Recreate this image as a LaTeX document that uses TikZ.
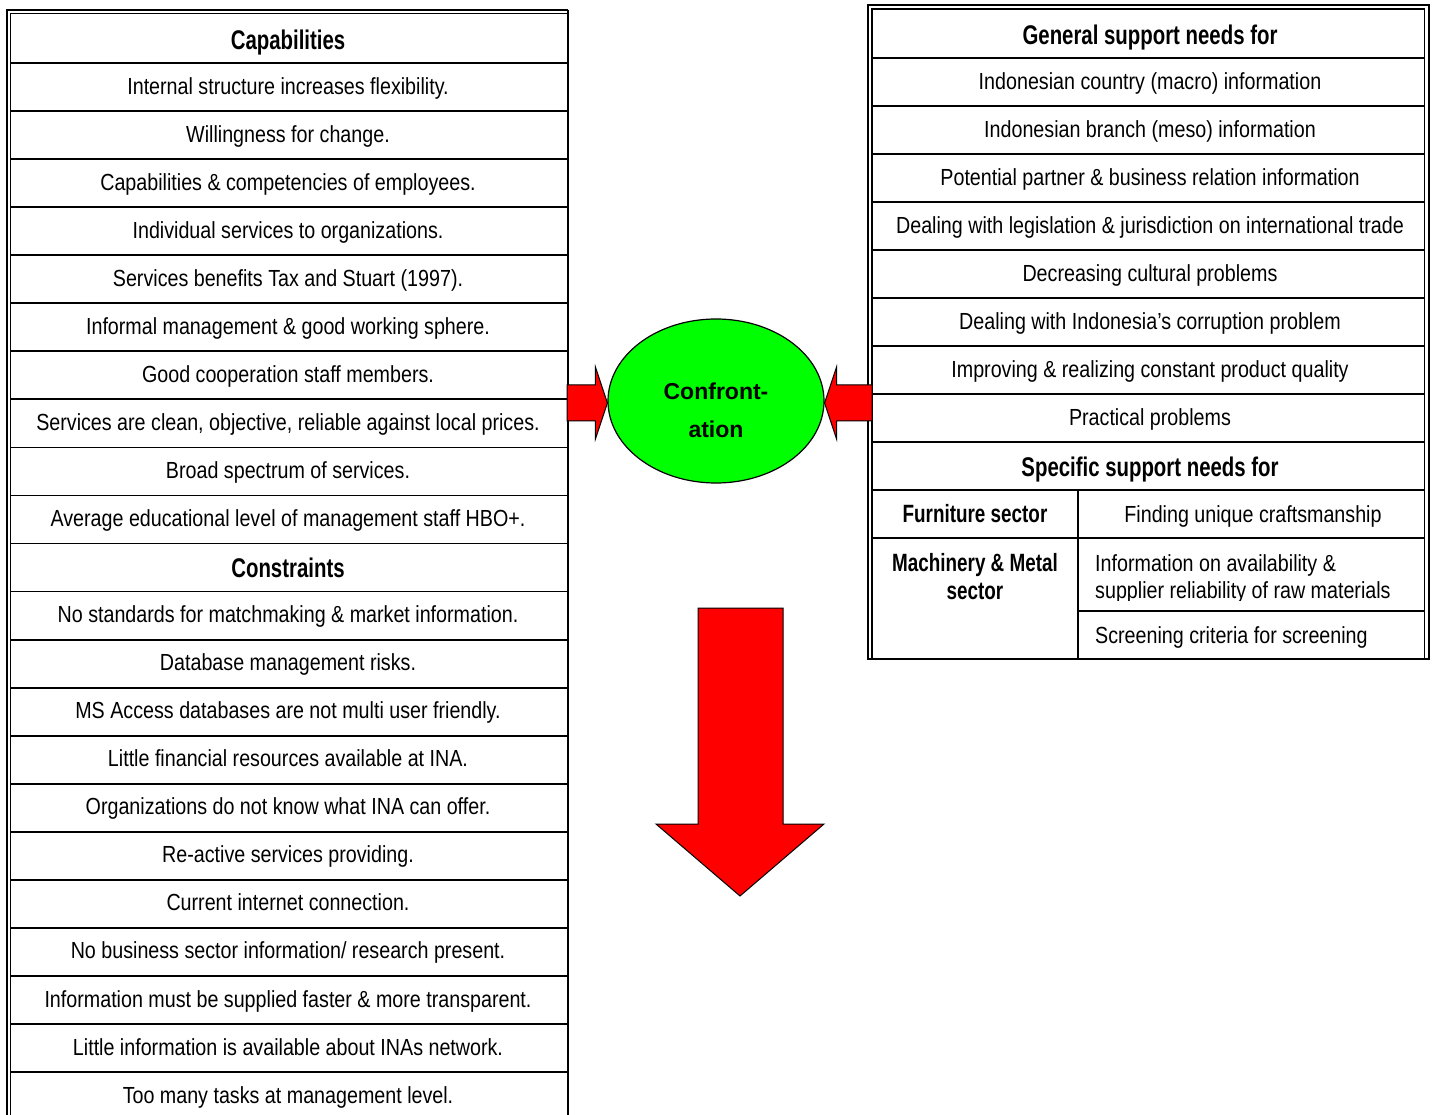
\documentclass[tikz,border=0pt]{standalone}
\usepackage{fontspec}
\setmainfont{Liberation Sans}[FakeStretch=0.845]
\newfontfamily\headfont{Liberation Sans}[FakeStretch=0.755]
\newfontfamily\ovalfont{Liberation Sans}
\usetikzlibrary{shapes.geometric,calc}
\definecolor{arrowred}{RGB}{255,0,0}
\definecolor{ovalgreen}{RGB}{0,255,0}

\tikzset{
  rule/.style={line width=1.8pt, black},
  outerrule/.style={line width=2pt, black},
  innerrule/.style={line width=1.4pt, black},
  cell/.style={anchor=base, inner sep=0pt, font=\fontsize{23.3}{28}\selectfont},
  lcell/.style={cell, anchor=base west},
  headcell/.style={anchor=base, inner sep=0pt, font=\headfont\bfseries\fontsize{27}{32}\selectfont},
  sectorcell/.style={anchor=base, inner sep=0pt, align=center,
    font=\headfont\bfseries\fontsize{25}{28}\selectfont},
  blockarrow/.style={fill=arrowred, draw=black, line width=1pt, line join=miter},
}

\begin{document}
\begin{tikzpicture}[x=1pt, y=-1pt]
\useasboundingbox (0,0) rectangle (1436,1115);

% ---------------- left table: capabilities and constraints ----------------
\draw[outerrule] (7,1116) -- (7,10) -- (568,10);
\draw[innerrule] (10.5,1116) -- (10.5,13.5) -- (568,13.5);
\draw[rule] (568,10) -- (568,1116);
\foreach \k in {0,...,21}
  \draw[rule] (10.5,{63+48.05*\k}) -- (568,{63+48.05*\k});

\node[headcell] (caphead) at (288,50) {Capabilities};
\foreach \t [count=\k] in {
  {Internal structure increases flexibility.},
  {Willingness for change.},
  {Capabilities \& competencies of employees.},
  {Individual services to organizations.},
  {Services benefits Tax and Stuart (1997).},
  {Informal management \& good working sphere.},
  {Good cooperation staff members.},
  {Services are clean, objective, reliable against local prices.},
  {Broad spectrum of services.},
  {Average educational level of management staff HBO+.}}
  \node[cell] (cap\k) at (288,{63+48.05*\k-17}) {\t};

\node[headcell] (conhead) at (288,{63+48.05*11-14}) {Constraints};
\foreach \t [count=\k from 12] in {
  {No standards for matchmaking \& market information.},
  {Database management risks.},
  {MS Access databases are not multi user friendly.},
  {Little financial resources available at INA.},
  {Organizations do not know what INA can offer.},
  {Re-active services providing.},
  {Current internet connection.},
  {No business sector information/ research present.},
  {Information must be supplied faster \& more transparent.},
  {Little information is available about INAs network.},
  {Too many tasks at management level.}}
  \node[cell] (con\k) at (288,{63+48.05*\k-17}) {\t};

% ---------------- right table: support needs ----------------
\draw[outerrule] (868,5) -- (1429,5) -- (1429,659) -- (868,659) -- cycle;
\draw[innerrule] (872,659) -- (872,9) -- (1424.5,9) -- (1424.5,659);
\foreach \k in {0,...,10}
  \draw[rule] (872,{58+48*\k}) -- (1424.5,{58+48*\k});
\draw[rule] (1078,490) -- (1078,659);
\draw[rule] (1078,611) -- (1424.5,611);

\node[headcell] (genhead) at (1150,44.5) {General support needs for};
\foreach \t [count=\k] in {
  {Indonesian country (macro) information},
  {Indonesian branch (meso) information},
  {Potential partner \& business relation information},
  {Dealing with legislation \& jurisdiction on international trade},
  {Decreasing cultural problems},
  {Dealing with Indonesia’s corruption problem},
  {Improving \& realizing constant product quality},
  {Practical problems}}
  \node[cell] (gen\k) at (1150,{58+48*\k-16.5}) {\t};

\node[headcell] (spechead) at (1150,476.5) {Specific support needs for};
\node[sectorcell] (furn) at (975,522) {Furniture sector};
\node[cell] (furnneed) at (1253,522) {Finding unique craftsmanship};
\node[sectorcell, anchor=north] (mach) at (975,553) {Machinery \& Metal\\sector};
\node[lcell] (machneed1) at (1095,571) {Information on availability \&};
\begin{scope}
  \clip (1080,540) rectangle (1422,600.5);
  \node[lcell] (machneed2) at (1095,598.5) {supplier reliability of raw materials};
\end{scope}
\node[lcell] (machneed3) at (1095,643) {Screening criteria for screening};

% ---------------- confrontation oval and block arrows ----------------
\node[ellipse, draw=black, line width=1.2pt, fill=ovalgreen,
      minimum width=216pt, minimum height=164pt, inner sep=0pt] (conf) at (716,401) {};
\node[align=center, inner sep=0pt,
      font=\ovalfont\bfseries\fontsize{23}{38}\selectfont] (conftext) at (716,410)
      {Confront-\\ation};

\coordinate (capedge) at (567,402);
\coordinate (neededge) at (872,402);
\draw[blockarrow] ($(capedge)+(0,-17)$) -- ($(conf.west)+(-12,-16)$)
  -- ($(conf.west)+(-12,-34)$) -- ($(conf.west)+(0,2)$) -- ($(conf.west)+(-12,38)$)
  -- ($(conf.west)+(-12,20)$) -- ($(capedge)+(0,19)$) -- cycle;
\draw[blockarrow] ($(neededge)+(0,-17)$) -- ($(conf.east)+(12,-16)$)
  -- ($(conf.east)+(12,-34)$) -- ($(conf.east)+(0,2)$) -- ($(conf.east)+(12,38)$)
  -- ($(conf.east)+(12,20)$) -- ($(neededge)+(0,19)$) -- cycle;

\coordinate (downtop) at (740.5,608);
\coordinate (downtip) at (740,896);
\draw[blockarrow] ($(downtop)+(-42.5,0)$) -- ($(downtop)+(42.5,0)$)
  -- ($(downtop)+(42.5,216)$) -- ($(downtip)+(84,-72)$) -- (downtip)
  -- ($(downtip)+(-84,-72)$) -- ($(downtop)+(-42.5,216)$) -- cycle;
\end{tikzpicture}
\end{document}
